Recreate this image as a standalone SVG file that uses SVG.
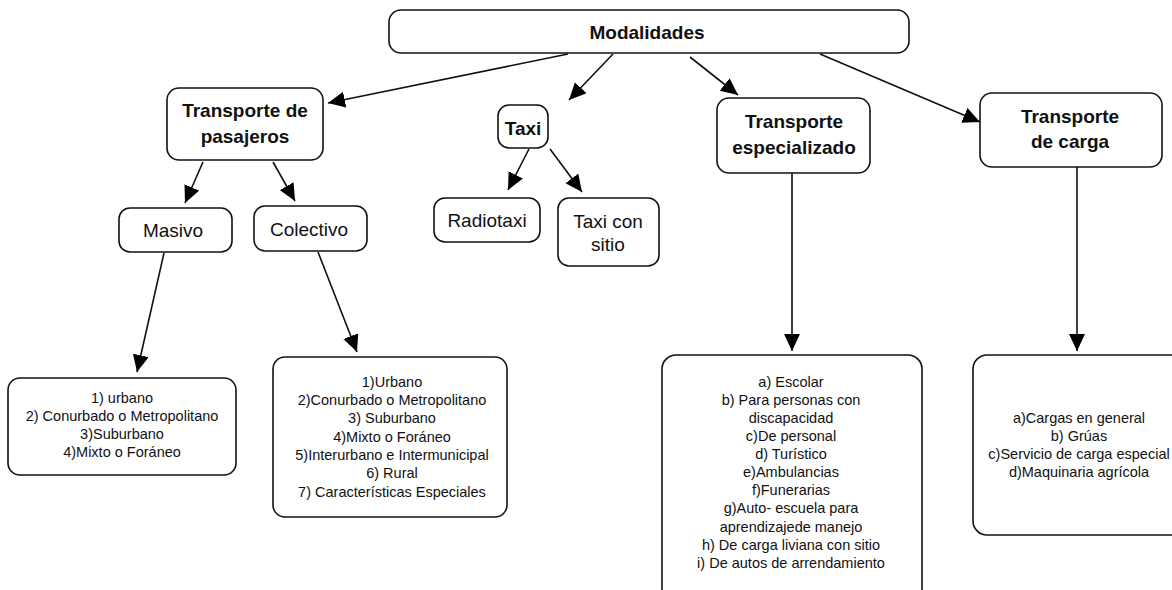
<svg xmlns="http://www.w3.org/2000/svg" width="1172" height="590" viewBox="0 0 1172 590">
<defs>
<marker id="ah" markerUnits="userSpaceOnUse" markerWidth="18" markerHeight="17" refX="17" refY="8" orient="auto">
<path d="M0,0 L17,8 L0,16 z" fill="#000"/>
</marker>
<style>
.box{fill:#fff;stroke:#111;stroke-width:1.6}
.b{font-family:"Liberation Sans",Arial,sans-serif;font-weight:bold;font-size:19px;fill:#111;text-anchor:middle}
.r{font-family:"Liberation Sans",Arial,sans-serif;font-size:19px;fill:#111;text-anchor:middle}
.s{font-family:"Liberation Sans",Arial,sans-serif;font-size:14.5px;fill:#111;text-anchor:middle}
.c{fill:none;stroke:#111;stroke-width:1.6;marker-end:url(#ah)}
</style>
</defs>
<rect width="1172" height="590" fill="#fff"/>
<g id="connectors">
<line class="c" x1="568" y1="54" x2="328" y2="103"/>
<line class="c" x1="613" y1="54" x2="569" y2="100"/>
<line class="c" x1="690" y1="57" x2="738" y2="95"/>
<line class="c" x1="820" y1="54" x2="980" y2="122"/>
<line class="c" x1="203" y1="162" x2="185" y2="203"/>
<line class="c" x1="273" y1="162" x2="295" y2="201"/>
<line class="c" x1="529" y1="149" x2="508" y2="190"/>
<line class="c" x1="550" y1="149" x2="582" y2="192"/>
<line class="c" x1="164" y1="253" x2="137" y2="372"/>
<line class="c" x1="318" y1="252" x2="357" y2="352"/>
<line class="c" x1="792" y1="173" x2="792" y2="351"/>
<line class="c" x1="1077" y1="167" x2="1077" y2="351"/>
</g>
<g id="modalidades">
<rect class="box" x="389" y="10" width="520" height="43" rx="12"/>
<text class="b" x="647" y="39">Modalidades</text>
</g>
<g id="pasajeros">
<rect class="box" x="167" y="88" width="156" height="72" rx="12"/>
<text class="b" x="245" y="117">Transporte de</text>
<text class="b" x="245" y="143">pasajeros</text>
</g>
<g id="taxi">
<rect class="box" x="498" y="105" width="50" height="43" rx="11"/>
<text class="b" x="523" y="135">Taxi</text>
</g>
<g id="especializado">
<rect class="box" x="717" y="98" width="153" height="75" rx="12"/>
<text class="b" x="794" y="128">Transporte</text>
<text class="b" x="794" y="154">especializado</text>
</g>
<g id="carga">
<rect class="box" x="980" y="93" width="182" height="74" rx="12"/>
<text class="b" x="1070" y="123">Transporte</text>
<text class="b" x="1070" y="148">de carga</text>
</g>
<g id="masivo">
<rect class="box" x="119" y="208" width="113" height="44" rx="11"/>
<text class="r" x="173" y="237">Masivo</text>
</g>
<g id="colectivo">
<rect class="box" x="254" y="206" width="113" height="45" rx="11"/>
<text class="r" x="309" y="236">Colectivo</text>
</g>
<g id="radiotaxi">
<rect class="box" x="434" y="198" width="106" height="44" rx="11"/>
<text class="r" x="487" y="227">Radiotaxi</text>
</g>
<g id="taxisitio">
<rect class="box" x="558" y="198" width="101" height="68" rx="11"/>
<text class="r" x="608" y="228">Taxi con</text>
<text class="r" x="608" y="251">sitio</text>
</g>
<g id="lista-masivo">
<rect class="box" x="8" y="378" width="228" height="97" rx="12"/>
<text class="s" x="122" y="403">1) urbano</text>
<text class="s" x="122" y="421">2) Conurbado o Metropolitano</text>
<text class="s" x="122" y="439">3)Suburbano</text>
<text class="s" x="122" y="457">4)Mixto o Foráneo</text>
</g>
<g id="lista-colectivo">
<rect class="box" x="273" y="357" width="234" height="160" rx="12"/>
<text class="s" x="392" y="387">1)Urbano</text>
<text class="s" x="392" y="405">2)Conurbado o Metropolitano</text>
<text class="s" x="392" y="423">3) Suburbano</text>
<text class="s" x="392" y="442">4)Mixto o Foráneo</text>
<text class="s" x="392" y="460">5)Interurbano e Intermunicipal</text>
<text class="s" x="392" y="478">6) Rural</text>
<text class="s" x="392" y="497">7) Características Especiales</text>
</g>
<g id="lista-especializado">
<rect class="box" x="662" y="355" width="260" height="250" rx="14"/>
<text class="s" x="791" y="387">a) Escolar</text>
<text class="s" x="791" y="405">b) Para personas con</text>
<text class="s" x="791" y="423">discapacidad</text>
<text class="s" x="791" y="441">c)De personal</text>
<text class="s" x="791" y="459">d) Turístico</text>
<text class="s" x="791" y="477">e)Ambulancias</text>
<text class="s" x="791" y="495">f)Funerarias</text>
<text class="s" x="791" y="513">g)Auto- escuela para</text>
<text class="s" x="791" y="532">aprendizajede manejo</text>
<text class="s" x="791" y="550">h) De carga liviana con sitio</text>
<text class="s" x="791" y="568">i) De autos de arrendamiento</text>
</g>
<g id="lista-carga">
<rect class="box" x="973" y="355" width="230" height="180" rx="14"/>
<text class="s" x="1079" y="423">a)Cargas en general</text>
<text class="s" x="1079" y="441">b) Grúas</text>
<text class="s" x="1079" y="459">c)Servicio de carga especial</text>
<text class="s" x="1079" y="477">d)Maquinaria agrícola</text>
</g>
</svg>
